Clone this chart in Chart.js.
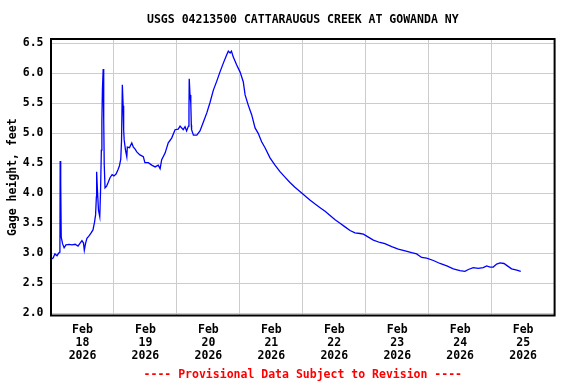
<!DOCTYPE html>
<html>
<head>
<meta charset="utf-8">
<script src="https://cdn.jsdelivr.net/npm/chart.js@4.4.1/dist/chart.umd.min.js"></script>
<style>
  html, body { margin: 0; padding: 0; background: #fff; }
  #wrap { width: 576px; height: 384px; position: relative; }
</style>
</head>
<body>
<div id="wrap"><canvas id="gage-chart"></canvas></div>
<script>
/* USGS gage height hydrograph (Chart.js) */
const TITLE = 'USGS 04213500 CATTARAUGUS CREEK AT GOWANDA NY';
const FOOTNOTE = '---- Provisional Data Subject to Revision ----';
const Y_TITLE = 'Gage height, feet';

// x labels, one per day (placed at noon)
const month = 'Feb';
const year = '2026';
const dayLabels = ['18', '19', '20', '21', '22', '23', '24', '25'];

// y ticks, feet
const yTicks = [2.0, 2.5, 3.0, 3.5, 4.0, 4.5, 5.0, 5.5, 6.0, 6.5];

// hours since Feb 18 00:00
const hours = [
  0, 0.8, 1.5, 2.3, 2.9, 3.4, 3.5, 3.7, 3.9, 4.4, 5.0, 5.7, 6.9, 8.0, 9.2, 10.3, 11.1, 11.8, 12.4, 12.7,
  13.2, 13.7, 14.5, 15.3, 16.0, 16.6, 17.0, 17.3, 17.4, 17.7, 18.1, 18.6, 18.9, 19.2, 19.4, 19.6, 19.9, 20.1, 20.3, 20.6,
  21.2, 21.7, 22.5, 23.3, 24.0, 24.8, 25.5, 26.1, 26.6, 26.9, 27.2, 27.5, 27.7, 27.9, 28.4, 28.9, 29.1, 29.9, 30.8, 31.4,
  32.0, 32.7, 33.9, 35.2, 35.8, 37.1, 38.4, 39.7, 40.9, 41.6, 42.2, 43.5, 44.7, 46.0, 47.3, 48.5, 49.2, 50.4, 51.1, 51.7,
  52.4, 52.6, 52.7, 53.0, 53.3, 53.5, 53.6, 54.3, 55.6, 56.8, 58.1, 59.4, 60.6, 61.9, 63.2, 64.4, 65.7, 67.0, 67.6, 68.3,
  68.8, 69.5, 70.8, 72.1, 73.3, 74.0, 75.2, 76.5, 77.8, 79.0, 80.3, 81.6, 83.5,
  85.4, 87.3, 89.2, 91.1, 93.0, 94.9, 96.8, 98.7, 100.7, 102.6, 104.5, 106.4, 108.3, 110.2, 112.1, 114.0,
  115.9, 117.8, 119.1, 121.0, 122.9, 125.4, 127.3, 129.9, 132.4, 135.0, 137.5, 139.4, 141.3, 143.2, 145.8, 148.3, 150.9,
  153.4, 155.9, 157.8, 159.1, 161.0, 162.9, 164.8, 166.1, 167.4, 168.6, 169.9, 171.2, 172.7, 174.0, 175.6, 177.6, 179.1
];

// gage height, feet
const gageFeet = [
  2.90, 2.92, 2.99, 2.96, 3.00, 3.02, 4.54, 4.19, 3.27, 3.16, 3.09, 3.14, 3.15, 3.14, 3.15, 3.12, 3.17, 3.21, 3.17, 3.05,
  3.17, 3.25, 3.29, 3.34, 3.39, 3.52, 3.64, 3.94, 4.36, 4.06, 3.72, 3.61, 4.06, 4.72, 5.21, 5.72, 6.07, 5.22, 4.47, 4.09,
  4.12, 4.17, 4.26, 4.31, 4.29, 4.32, 4.39, 4.46, 4.57, 4.89, 5.81, 5.46, 5.06, 4.89, 4.72, 4.61, 4.77, 4.76, 4.84, 4.77,
  4.74, 4.69, 4.64, 4.61, 4.51, 4.51, 4.47, 4.44, 4.47, 4.41, 4.56, 4.67, 4.84, 4.92, 5.06, 5.07, 5.12, 5.06, 5.11, 5.04,
  5.12, 5.39, 5.91, 5.64, 5.50, 5.14, 5.06, 4.97, 4.97, 5.04, 5.19, 5.34, 5.51, 5.72, 5.87, 6.02, 6.17, 6.31, 6.37, 6.34,
  6.37, 6.27, 6.14, 6.02, 5.86, 5.64, 5.47, 5.31, 5.09, 5.00, 4.86, 4.76, 4.59,
  4.47, 4.36, 4.27, 4.18, 4.10, 4.03, 3.96, 3.89, 3.82, 3.76, 3.70, 3.63, 3.56, 3.50, 3.44, 3.38,
  3.34, 3.33, 3.32, 3.27, 3.22, 3.18, 3.16, 3.11, 3.07, 3.04, 3.01, 2.99, 2.93, 2.92, 2.88, 2.83, 2.79,
  2.74, 2.71, 2.70, 2.73, 2.76, 2.75, 2.76, 2.79, 2.77, 2.77, 2.82, 2.84, 2.83, 2.79, 2.74, 2.72, 2.70
];

const FONT = { family: '"DejaVu Sans Mono", monospace', size: 11.5, weight: 'bold' };

// black frame, title and footnote
const frameAndText = {
  id: 'frameAndText',
  afterDraw(chart) {
    const { ctx, chartArea: a } = chart;
    const cx = (a.left + a.right) / 2;
    ctx.save();
    ctx.strokeStyle = '#000';
    ctx.lineWidth = 2;
    ctx.strokeRect(a.left, a.top, a.right - a.left, a.bottom - a.top);
    ctx.font = 'bold 11.5px "DejaVu Sans Mono", monospace';
    ctx.textAlign = 'center';
    ctx.textBaseline = 'middle';
    ctx.fillStyle = '#000';
    ctx.fillText(TITLE, cx, 20);
    ctx.fillStyle = '#ff0000';
    ctx.fillText(FOOTNOTE, cx, 375);
    ctx.restore();
  }
};

new Chart(document.getElementById('gage-chart'), {
  type: 'line',
  data: {
    datasets: [{
      data: gageFeet.map((v, i) => ({ x: hours[i], y: v })),
      borderColor: '#0000ff',
      borderWidth: 1.3,
      pointRadius: 0,
      tension: 0,
      fill: false,
    }]
  },
  options: {
    responsive: true, maintainAspectRatio: false,
    animation: false,
    layout: { padding: { top: 39, right: 21.4, left: 0, bottom: 0 } },
    scales: {
      x: {
        type: 'linear', min: 0, max: 192,
        afterFit: s => { s.height = 68.5; },
        border: { display: false },
        grid: {
          drawTicks: false,
          color: c => (c.tick && c.tick.value % 24 === 0) ? '#cccccc' : 'rgba(0,0,0,0)',
        },
        ticks: {
          stepSize: 12, autoSkip: false, maxRotation: 0, padding: 8,
          color: '#000', font: { ...FONT, lineHeight: '13px' },
          callback: v => (v % 24 === 12) ? [month, dayLabels[Math.floor(v / 24)], year] : '',
        },
      },
      y: {
        min: 1.963, max: 6.572,
        afterFit: s => { s.width = 51; },
        afterBuildTicks: s => { s.ticks = yTicks.map(v => ({ value: v })); },
        border: { display: false },
        grid: { drawTicks: false, color: '#cccccc' },
        ticks: { padding: 7.5, color: '#000', font: FONT, callback: v => v.toFixed(1) },
        title: { display: true, text: Y_TITLE, color: '#000', font: FONT, padding: { top: 6, bottom: 0 } },
      },
    },
    plugins: { legend: { display: false }, tooltip: { enabled: false } }
  },
  plugins: [frameAndText]
});
</script>
</body>
</html>
